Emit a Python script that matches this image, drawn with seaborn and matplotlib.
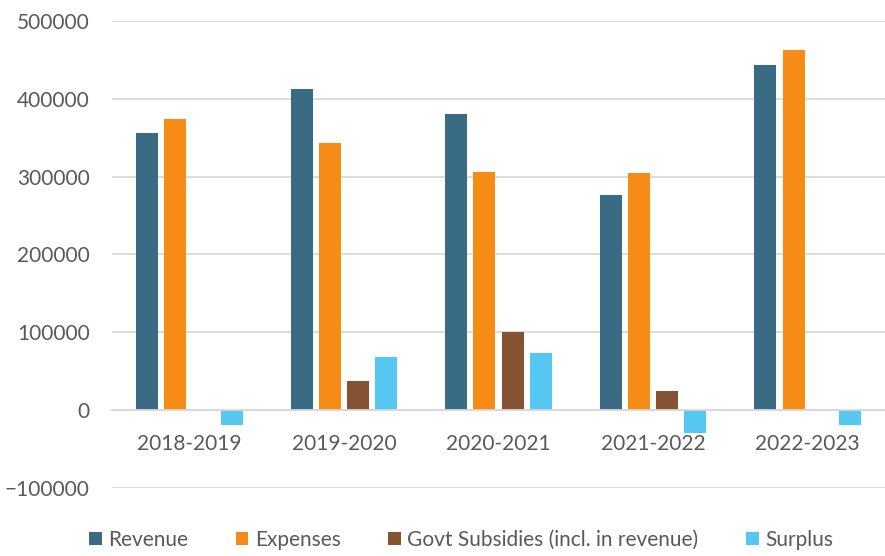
import pandas as pd
import matplotlib.pyplot as plt
import seaborn as sns

# Values
years = ['2018-2019', '2019-2020', '2020-2021', '2021-2022', '2022-2023']
revenue = [356000, 413000, 380500, 276500, 444000]
expenses = [374000, 343000, 305500, 305000, 462600]
govt_subsidies = [0, 37000, 101000, 24400, 0]
surplus = [-18700, 68500, 74000, -29000, -19600]

series_names = ['Revenue', 'Expenses', 'Govt Subsidies (incl. in revenue)', 'Surplus']
colors = ['#3A6B84', '#F68B16', '#855234', '#56C7F1']

# Long format for seaborn
df = pd.DataFrame({
    'Year': years * 4,
    'Series': [s for s in series_names for _ in years],
    'Value': revenue + expenses + govt_subsidies + surplus,
})

sns.set_style('white')
plt.rcParams['font.family'] = ['Lato', 'DejaVu Sans']
text_color = '#595959'
grid_color = '#D9D9D9'

fig = plt.figure(figsize=(8.85, 5.56), dpi=100)
ax = fig.add_axes([112 / 885, 1 - 488 / 556, 1 - 112 / 885, (488 - 21) / 556])

sns.barplot(data=df, x='Year', y='Value', hue='Series', palette=colors,
            saturation=1, width=0.73, gap=0.22, linewidth=0, ax=ax, legend=True)

ax.set_ylim(-100000, 500000)
ax.set_yticks(range(-100000, 500001, 100000))
ax.yaxis.grid(True, color=grid_color, linewidth=1.3)
ax.set_axisbelow(True)
ax.set_xlabel('')
ax.set_ylabel('')

for side in ['top', 'right', 'left']:
    ax.spines[side].set_visible(False)
ax.spines['bottom'].set_position(('data', 0))
ax.spines['bottom'].set_color(grid_color)
ax.spines['bottom'].set_linewidth(1.3)

ax.tick_params(axis='y', length=0, pad=16, labelsize=15, labelcolor=text_color)
ax.tick_params(axis='x', length=0, pad=17, labelsize=15, labelcolor=text_color)

# Legend at the bottom
handles, labels = ax.get_legend_handles_labels()
ax.get_legend().remove()
fig.legend(handles, labels, loc='center', bbox_to_anchor=(0.521, 0.029),
           ncol=4, frameon=False, fontsize=15, labelcolor=text_color,
           handlelength=0.6, handleheight=0.6, handletextpad=0.3,
           columnspacing=2.3)

fig.savefig('out.png', dpi=100)
